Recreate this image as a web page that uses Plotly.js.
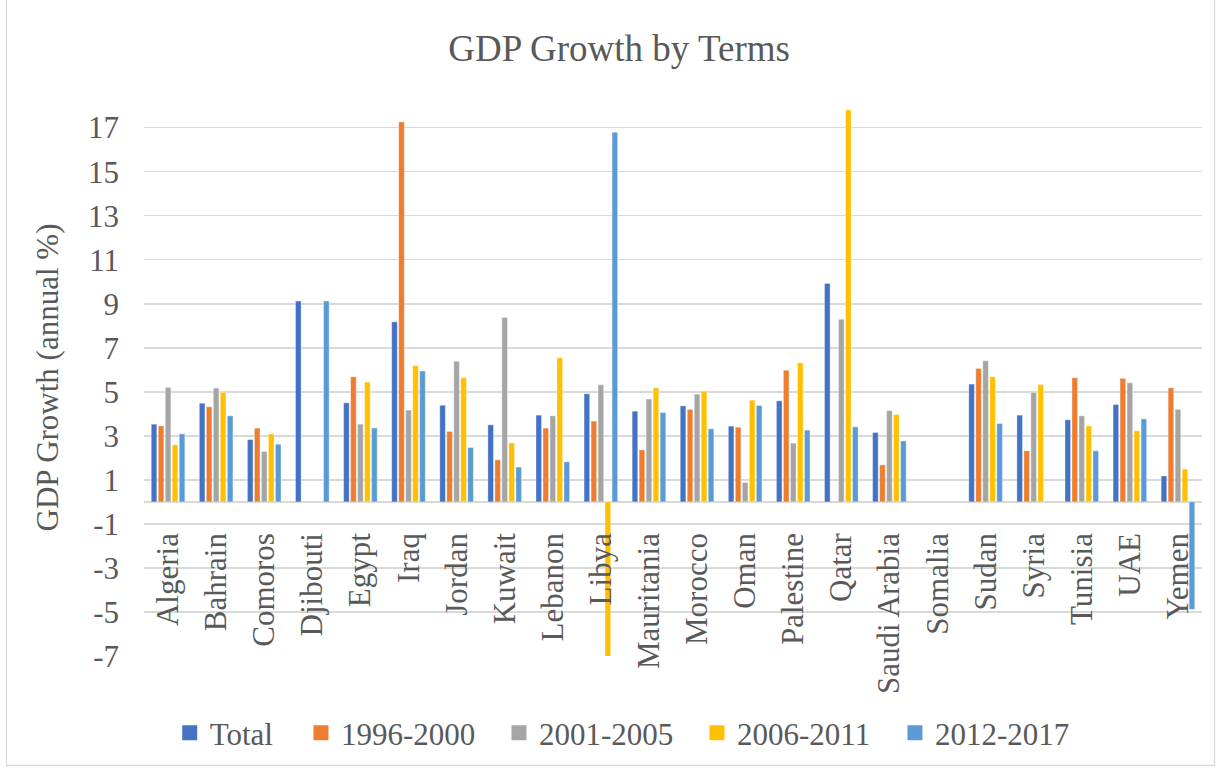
<!DOCTYPE html>
<html>
<head>
<meta charset="utf-8">
<script src="https://cdn.plot.ly/plotly-3.0.1.min.js"></script>
<style>
html,body{margin:0;padding:0;background:#fff;}
#chart{width:1221px;height:771px;}
</style>
</head>
<body>
<div id="chart"></div>
<script>
const categories = ['Algeria','Bahrain','Comoros','Djibouti','Egypt','Iraq','Jordan','Kuwait','Lebanon','Libya','Mauritania','Morocco','Oman','Palestine','Qatar','Saudi Arabia','Somalia','Sudan','Syria','Tunisia','UAE','Yemen'];
const seriesNames = ['Total','1996-2000','2001-2005','2006-2011','2012-2017'];
const total   = [3.53,4.48,2.83,9.12,4.50,8.18,4.39,3.50,3.94,4.91,4.12,4.36,3.44,4.59,9.92,3.15,null,5.35,3.94,3.73,4.42,1.18];
const p1996   = [3.45,4.32,3.35,null,5.68,17.26,3.20,1.91,3.35,3.67,2.36,4.20,3.39,5.98,null,1.68,null,6.06,2.32,5.64,5.61,5.18];
const p2001   = [5.20,5.17,2.29,null,3.53,4.17,6.39,8.38,3.91,5.32,4.67,4.89,0.88,2.67,8.30,4.14,null,6.41,4.97,3.91,5.41,4.20];
const p2006   = [2.59,4.97,3.09,null,5.44,6.18,5.64,2.68,6.55,-7.03,5.18,5.03,4.62,6.32,17.80,3.97,null,5.68,5.33,3.45,3.23,1.49];
const p2012   = [3.09,3.91,2.62,9.12,3.36,5.94,2.47,1.58,1.82,16.79,4.06,3.32,4.38,3.26,3.41,2.77,null,3.56,null,2.32,3.77,-4.88];
const yTicks  = [-7,-5,-3,-1,1,3,5,7,9,11,13,15,17];

const values = [total,p1996,p2001,p2006,p2012];
const colors = ['#4472C4','#ED7D31','#A5A5A5','#FFC000','#5B9BD5'];
const FONT = '"Liberation Serif","Times New Roman",serif';
const GREY = '#595959';
const yMin = -7, yMax = 18.3;

const barTraces = values.map((v,i)=>({
  type:'bar', name:seriesNames[i], x:categories, y:v,
  marker:{color:colors[i], line:{color:'rgba(255,255,255,0.6)', width:0.6}},
  showlegend:false
}));
// legend entries (square swatches like the original)
const legendTraces = seriesNames.map((n,i)=>({
  type:'scatter', mode:'markers', name:n, x:[null], y:[null],
  marker:{symbol:'square', size:15, color:colors[i]},
  legend: i===0 ? 'legend' : 'legend2', showlegend:true
}));

const layout = {
  width:1221, height:771,
  margin:{l:144, r:19, t:99, b:115},
  paper_bgcolor:'#fff', plot_bgcolor:'#fff',
  font:{family:FONT, color:GREY, size:31},
  title:{text:'GDP Growth by Terms', font:{family:FONT, size:37, color:GREY},
         xref:'container', x:0.507, xanchor:'center', yref:'container', y:0.938, yanchor:'middle'},
  barmode:'group', bargap:0.272, bargroupgap:0.2,
  showlegend:true,
  legend:{orientation:'h', xref:'container', yref:'container', x:0.139, y:0.049, yanchor:'middle', xanchor:'left',
          font:{family:FONT, size:31, color:GREY}, bgcolor:'rgba(0,0,0,0)'},
  legend2:{orientation:'h', xref:'container', yref:'container', x:0.2465, y:0.049, yanchor:'middle', xanchor:'left',
          entrywidth:153, entrywidthmode:'pixels',
          font:{family:FONT, size:31, color:GREY}, bgcolor:'rgba(0,0,0,0)'},
  xaxis:{type:'category', anchor:'free', position:(0-yMin)/(yMax-yMin),
         showgrid:false, showline:false, ticks:'', tickangle:-90, ticklabelstandoff:24,
         tickfont:{family:FONT, size:31, color:GREY}, fixedrange:true},
  yaxis:{range:[yMin,yMax], tickmode:'array', tickvals:yTicks, ticktext:yTicks.map(String),
         showgrid:true, gridcolor:'#d9d9d9', gridwidth:1.5,
         zeroline:true, zerolinecolor:'#d9d9d9', zerolinewidth:1.5,
         showline:false, ticks:'', ticklabelstandoff:24,
         tickfont:{family:FONT, size:31, color:GREY},
         title:{text:'GDP Growth (annual %)', font:{family:FONT, size:31, color:GREY}, standoff:20}},
  shapes:[{type:'rect', xref:'paper', yref:'paper', x0:-0.13, x1:1.0118, y0:-0.1966, y1:1.187,
           line:{color:'#d9d9d9', width:1.3}, fillcolor:'rgba(0,0,0,0)', layer:'below'}]
};

Plotly.newPlot('chart', barTraces.concat(legendTraces), layout, {staticPlot:true, displayModeBar:false});
</script>
</body>
</html>
